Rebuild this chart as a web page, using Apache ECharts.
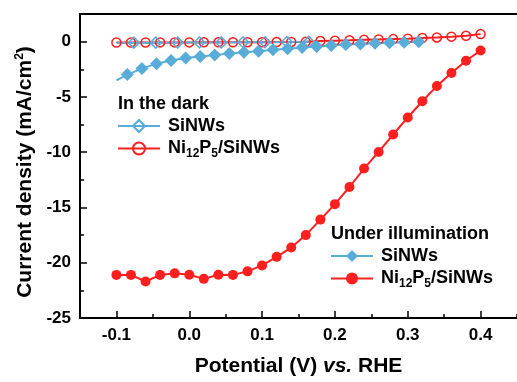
<!DOCTYPE html>
<html>
<head>
<meta charset="utf-8">
<script src="https://cdn.jsdelivr.net/npm/echarts@6/dist/echarts.min.js"></script>
<style>
html,body{margin:0;padding:0;background:#fff;}
#chart{width:517px;height:382px;}
</style>
</head>
<body>
<div id="chart"></div>
<script>
// in the dark - SiNWs (first point is the line start, no marker)
var darkSiX = [-0.1, -0.076, -0.046, -0.016, 0.014, 0.044, 0.074, 0.104, 0.134, 0.164];
var darkSiY = [-0.1, -0.09, -0.09, -0.08, -0.08, -0.07, -0.06, -0.05, -0.04, -0.02];
// in the dark - Ni12P5/SiNWs
var darkNiX = [-0.1, -0.08, -0.06, -0.04, -0.02, 0.0, 0.02, 0.04, 0.06, 0.08, 0.1, 0.12, 0.14,
  0.16, 0.18, 0.2, 0.22, 0.24, 0.26, 0.28, 0.3, 0.32, 0.34, 0.36, 0.38, 0.4];
var darkNiY = [-0.08, -0.08, -0.08, -0.07, -0.07, -0.07, -0.06, -0.06, -0.06, -0.05, -0.05, -0.04, -0.03,
  -0.02, 0.05, 0.09, 0.12, 0.16, 0.2, 0.23, 0.27, 0.33, 0.38, 0.45, 0.53, 0.68];
// under illumination - SiNWs (first point is the line start, no marker)
var lightSiX = [-0.1, -0.085, -0.065, -0.045, -0.025, -0.005, 0.015, 0.035, 0.055, 0.075, 0.095, 0.115,
  0.135, 0.155, 0.175, 0.195, 0.215, 0.235, 0.255, 0.275, 0.295, 0.315];
var lightSiY = [-3.5, -2.98, -2.44, -1.99, -1.70, -1.49, -1.34, -1.22, -1.07, -0.95, -0.86, -0.74,
  -0.65, -0.53, -0.45, -0.36, -0.27, -0.21, -0.15, -0.09, -0.06, 0.0];
// under illumination - Ni12P5/SiNWs
var lightNiX = darkNiX;
var lightNiY = [-21.1, -21.1, -21.7, -21.1, -20.96, -21.08, -21.46, -21.08, -21.1, -20.78, -20.24, -19.47, -18.63,
  -17.5, -16.1, -14.7, -13.15, -11.48, -9.98, -8.4, -6.86, -5.39, -4.02, -2.83, -1.73, -0.8];

var xTicks = [-0.1, 0.0, 0.1, 0.2, 0.3, 0.4];
var yTicks = [-25, -20, -15, -10, -5, 0];

var blue = '#58acd8';
var red = '#ff1f1f';
var font = 'Liberation Sans, Arial, sans-serif';

function pairs(xs, ys, skipFirst) {
  return xs.map(function (x, i) {
    var p = {value: [x, ys[i]]};
    if (skipFirst && i === 0) p.symbol = 'none';
    return p;
  });
}

var labelMap = {
  'darkSi': '{n|SiNWs}',
  'darkNi': '{n|Ni}{s|12}{n|P}{s|5}{n|/SiNWs}',
  'lightSi': '{n|SiNWs}',
  'lightNi': '{n|Ni}{s|12}{n|P}{s|5}{n|/SiNWs}'
};
var legendRich = {
  n: {fontSize: 18, fontWeight: 'bold', fontFamily: font, color: '#000', lineHeight: 22},
  s: {fontSize: 12, fontWeight: 'bold', fontFamily: font, color: '#000', lineHeight: 22, padding: [11, 0, 0, 0]}
};

var chart = echarts.init(document.getElementById('chart'), null, {renderer: 'canvas'});
var option = {
  animation: false,
  backgroundColor: '#fff',
  grid: {left: 80, right: -2, top: 14, bottom: 60},
  xAxis: [{
    type: 'value', position: 'bottom', min: -0.15, max: 0.45,
    axisLine: {onZero: false, lineStyle: {color: '#000', width: 2}},
    axisTick: {inside: true, length: 7, customValues: xTicks, lineStyle: {color: '#000', width: 1.5}},
    axisLabel: {customValues: xTicks, margin: 9, color: '#000', fontSize: 17, fontWeight: 'bold', fontFamily: font,
      formatter: function (v) { return v.toFixed(1); }},
    splitLine: {show: false},
    name: '{b|Potential (V) }{i|vs.}{b| RHE}',
    nameLocation: 'middle', nameGap: 38,
    nameTextStyle: {rich: {
      b: {fontSize: 21, fontWeight: 'bold', fontFamily: font, color: '#000'},
      i: {fontSize: 21, fontWeight: 'bold', fontStyle: 'italic', fontFamily: font, color: '#000'}
    }}
  }, {
    type: 'value', position: 'bottom', min: -0.15, max: 0.45, interval: 0.05,
    axisLine: {show: false, onZero: false},
    axisTick: {inside: true, length: 4, lineStyle: {color: '#000', width: 1.5}},
    axisLabel: {show: false}, splitLine: {show: false}
  }, {
    type: 'value', position: 'top', min: -0.15, max: 0.45,
    axisLine: {onZero: false, lineStyle: {color: '#000', width: 2}},
    axisTick: {show: false}, axisLabel: {show: false}, splitLine: {show: false}
  }],
  yAxis: [{
    type: 'value', position: 'left', min: -25, max: 2.5,
    axisLine: {onZero: false, lineStyle: {color: '#000', width: 2}},
    axisTick: {inside: true, length: 7, customValues: yTicks, lineStyle: {color: '#000', width: 1.5}},
    axisLabel: {customValues: yTicks, margin: 9, color: '#000', fontSize: 17, fontWeight: 'bold', fontFamily: font},
    splitLine: {show: false},
    name: '{t|Current density (mA/cm}{p|2}{t|)}',
    nameLocation: 'middle', nameGap: 44,
    nameTextStyle: {padding: [0, 12, 0, 0], rich: {
      t: {fontSize: 21, fontWeight: 'bold', fontFamily: font, color: '#000'},
      p: {fontSize: 12, fontWeight: 'bold', fontFamily: font, color: '#000', padding: [0, 0, 10, 0]}
    }}
  }, {
    type: 'value', position: 'left', min: -25, max: 2.5, interval: 2.5,
    axisLine: {show: false, onZero: false},
    axisTick: {inside: true, length: 4, lineStyle: {color: '#000', width: 1.5}},
    axisLabel: {show: false}, splitLine: {show: false}
  }],
  legend: [{
    data: ['darkSi', 'darkNi'],
    orient: 'vertical', left: 117, top: 117, padding: 0, itemGap: 2,
    itemWidth: 42, itemHeight: 15,
    formatter: function (name) { return labelMap[name]; },
    textStyle: {rich: legendRich, padding: [0, 0, 0, 3]}
  }, {
    data: ['lightSi', 'lightNi'],
    orient: 'vertical', left: 330, top: 247, padding: 0, itemGap: 2,
    itemWidth: 42, itemHeight: 15,
    formatter: function (name) { return labelMap[name]; },
    textStyle: {rich: legendRich, padding: [0, 0, 0, 3]}
  }],
  graphic: [{
    type: 'text', left: 118, top: 95,
    style: {text: 'In the dark', font: 'bold 18px ' + font, fill: '#000'}
  }, {
    type: 'text', left: 331, top: 225,
    style: {text: 'Under illumination', font: 'bold 18px ' + font, fill: '#000'}
  }],
  series: [{
    name: 'darkNi', type: 'line', data: pairs(darkNiX, darkNiY, false),
    symbol: 'circle', symbolSize: 9,
    itemStyle: {color: 'rgba(255,255,255,0)', borderColor: red, borderWidth: 1.5},
    lineStyle: {color: red, width: 2}
  }, {
    name: 'darkSi', type: 'line', data: pairs(darkSiX, darkSiY, true),
    symbol: 'diamond', symbolSize: 11,
    itemStyle: {color: 'rgba(255,255,255,0)', borderColor: blue, borderWidth: 1.5},
    lineStyle: {color: blue, width: 2}
  }, {
    name: 'lightSi', type: 'line', data: pairs(lightSiX, lightSiY, true),
    symbol: 'diamond', symbolSize: 13,
    itemStyle: {color: blue},
    lineStyle: {color: blue, width: 2}
  }, {
    name: 'lightNi', type: 'line', data: pairs(lightNiX, lightNiY, false),
    symbol: 'circle', symbolSize: 10,
    itemStyle: {color: red},
    lineStyle: {color: red, width: 2}
  }]
};
chart.setOption(option);
</script>
</body>
</html>
